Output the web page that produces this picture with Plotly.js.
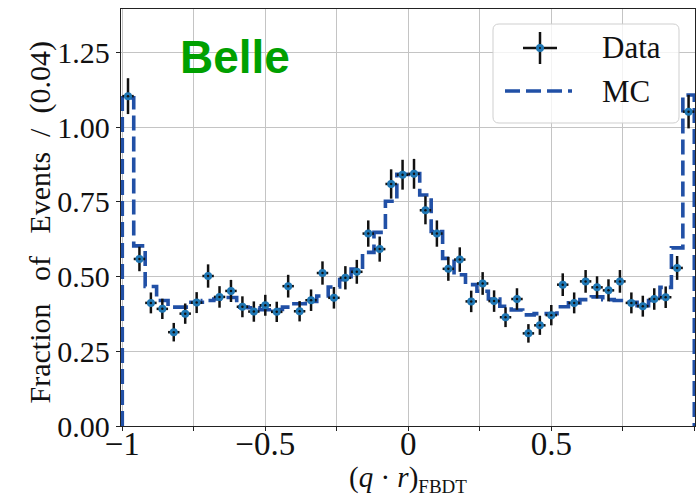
<!DOCTYPE html>
<html><head><meta charset="utf-8">
<script src="https://cdn.plot.ly/plotly-3.0.1.min.js"></script>
<style>html,body{margin:0;padding:0;background:#fff}</style>
</head><body><div id="chart" style="width:696px;height:497px"></div>
<script>
// ---- data ----
const binCenters = [-0.98,-0.94,-0.90,-0.86,-0.82,-0.78,-0.74,-0.70,-0.66,-0.62,
  -0.58,-0.54,-0.50,-0.46,-0.42,-0.38,-0.34,-0.30,-0.26,-0.22,
  -0.18,-0.14,-0.10,-0.06,-0.02,0.02,0.06,0.10,0.14,0.18,
  0.22,0.26,0.30,0.34,0.38,0.42,0.46,0.50,0.54,0.58,
  0.62,0.66,0.70,0.74,0.78,0.82,0.86,0.90,0.94,0.98];
const binHalfWidth = 0.02;
const dataValues = [1.104,0.559,0.412,0.392,0.314,0.376,0.413,0.502,0.432,0.452,
  0.399,0.383,0.404,0.382,0.468,0.384,0.421,0.512,0.429,0.496,
  0.516,0.644,0.592,0.810,0.841,0.844,0.722,0.644,0.526,0.557,
  0.417,0.477,0.418,0.364,0.425,0.310,0.337,0.371,0.473,0.412,
  0.484,0.464,0.454,0.484,0.412,0.401,0.425,0.431,0.529,1.052];
const dataErrors = [0.060,0.041,0.035,0.034,0.031,0.034,0.035,0.039,0.036,0.037,
  0.035,0.034,0.035,0.034,0.038,0.034,0.036,0.039,0.036,0.039,
  0.040,0.044,0.042,0.049,0.050,0.050,0.047,0.044,0.040,0.041,
  0.036,0.038,0.036,0.033,0.036,0.031,0.032,0.034,0.038,0.035,
  0.038,0.037,0.037,0.038,0.035,0.035,0.036,0.036,0.040,0.056];
const mcValues = [1.098,0.603,0.467,0.420,0.398,0.398,0.414,0.420,0.425,0.430,
  0.398,0.396,0.389,0.390,0.398,0.409,0.417,0.435,0.465,0.490,
  0.525,0.581,0.648,0.752,0.842,0.845,0.773,0.651,0.561,0.506,
  0.473,0.451,0.425,0.401,0.388,0.372,0.376,0.376,0.399,0.412,
  0.423,0.432,0.423,0.420,0.414,0.403,0.420,0.464,0.596,1.108];
const yTickVals = [0, 0.25, 0.5, 0.75, 1.0, 1.25];
const yTickText = ['0.00','0.25','0.50','0.75','1.00','1.25'];
const xTickVals = [-1,-0.5,0,0.5,1];
const xTickText = ['\u22121','\u22120.5','0','0.5','1'];

// ---- styles ----
const dataColor = '#1f77b4';
const mcColor = '#2150a6';
const serif = 'Liberation Serif, Times New Roman, serif';
const gridColor = '#c4c4c4';

// step outline for MC histogram
const edges = binCenters.map(c => c - binHalfWidth).concat([binCenters[binCenters.length-1] + binHalfWidth]);
const mcX = [edges[0]].concat(edges.slice(0, mcValues.length), [edges[edges.length-1], edges[edges.length-1]]);
const mcY = [0].concat(mcValues, [mcValues[mcValues.length-1], 0]);

const traces = [
  {x: mcX, y: mcY, type: 'scatter', mode: 'lines', line: {shape: 'hv', color: mcColor, width: 3.6, dash: '15px,6px'}, hoverinfo: 'skip'},
  {x: binCenters, y: dataValues, type: 'scatter', mode: 'markers',
   marker: {color: dataColor, size: 8},
   error_y: {type: 'data', array: dataErrors, color: '#111', thickness: 2.5, width: 0},
   error_x: {type: 'constant', value: binHalfWidth, color: '#111', thickness: 2.5, width: 0}},
  {x: binCenters, y: dataValues, type: 'scatter', mode: 'markers', marker: {color: '#111', size: 2.5}, hoverinfo: 'skip'}
];

// plot-area pixel to paper helpers
const L = 121, R = 695, T = 9, B = 426;
const px = p => (p - L) / (R - L);
const py = p => (B - p) / (B - T);
function roundRect(x0, y0, x1, y1, r) {
  const P = (a, b) => px(a) + ',' + py(b);
  return 'M' + P(x0 + r, y0) + ' L' + P(x1 - r, y0) + ' Q' + P(x1, y0) + ' ' + P(x1, y0 + r) +
    ' L' + P(x1, y1 - r) + ' Q' + P(x1, y1) + ' ' + P(x1 - r, y1) +
    ' L' + P(x0 + r, y1) + ' Q' + P(x0, y1) + ' ' + P(x0, y1 - r) +
    ' L' + P(x0, y0 + r) + ' Q' + P(x0, y0) + ' ' + P(x0 + r, y0) + ' Z';
}

const shapes = [
  {type: 'path', xref: 'paper', yref: 'paper', path: roundRect(493, 24, 679, 123, 6),
   fillcolor: 'rgba(255,255,255,0.8)', line: {color: '#cfcfcf', width: 1}, layer: 'above'},
  {type: 'line', xref: 'paper', yref: 'paper', x0: px(523), x1: px(557), y0: py(48), y1: py(48), line: {color: '#111', width: 2.5}, layer: 'above'},
  {type: 'line', xref: 'paper', yref: 'paper', x0: px(540), x1: px(540), y0: py(32), y1: py(64), line: {color: '#111', width: 2.5}, layer: 'above'},
  {type: 'circle', xref: 'paper', yref: 'paper', x0: px(536), x1: px(544), y0: py(44), y1: py(52), fillcolor: dataColor, line: {width: 0}, layer: 'above'},
  {type: 'circle', xref: 'paper', yref: 'paper', x0: px(539), x1: px(541), y0: py(47), y1: py(49), fillcolor: '#111', line: {width: 0}, layer: 'above'},
  {type: 'line', xref: 'paper', yref: 'paper', x0: px(505), x1: px(572), y0: py(91), y1: py(91), line: {color: mcColor, width: 3.6, dash: '15px,6px'}, layer: 'above'}
];

const annotations = [
  {text: '<b>Belle</b>', xref: 'paper', yref: 'paper', x: px(235), y: py(57), xanchor: 'center', yanchor: 'middle', showarrow: false,
   font: {family: 'Liberation Sans, Arial, sans-serif', size: 46, color: '#00a000'}},
  {text: 'Data', xref: 'paper', yref: 'paper', x: px(600), y: py(48), xanchor: 'left', yanchor: 'middle', showarrow: false,
   font: {family: serif, size: 31, color: '#111'}},
  {text: 'MC', xref: 'paper', yref: 'paper', x: px(600), y: py(91), xanchor: 'left', yanchor: 'middle', showarrow: false,
   font: {family: serif, size: 31, color: '#111'}},
  // axis titles
  {text: '(<i>q</i> \u00b7 <i>r</i>)<sub><span style="font-size:19px">FBDT</span></sub>', xref: 'paper', yref: 'paper',
   x: px(408), y: py(478.5), xanchor: 'center', yanchor: 'middle', showarrow: false,
   font: {family: serif, size: 29, color: '#111'}},
  {text: 'Fraction\u00a0\u00a0 of\u00a0\u00a0 Events\u00a0 /\u00a0 (0.04)', xref: 'paper', yref: 'paper', textangle: -90,
   x: px(40), y: py(222.5), xanchor: 'center', yanchor: 'middle', showarrow: false,
   font: {family: serif, size: 30, color: '#111'}}
];

const layout = {
  width: 696, height: 497,
  margin: {l: L, r: 696 - R, t: T, b: 497 - B, pad: 0},
  paper_bgcolor: '#fff', plot_bgcolor: '#fff',
  showlegend: false,
  font: {family: serif, size: 29, color: '#111'},
  xaxis: {range: [-1.0045, 1.0025], tickmode: 'array', tickvals: xTickVals, ticktext: xTickText,
    showgrid: true, gridcolor: gridColor, gridwidth: 1, zeroline: false,
    showline: true, mirror: true, linecolor: '#222', linewidth: 1.3,
    ticks: 'outside', ticklen: 4, tickcolor: '#222', tickwidth: 1,
    minor: {tick0: 0, dtick: 0.25, ticks: 'outside', ticklen: 4, tickcolor: '#222', showgrid: true, gridcolor: gridColor, gridwidth: 1},
    ticklabelstandoff: -16,
    tickfont: {family: serif, size: 33, color: '#111'}},
  yaxis: {range: [0, 1.3956], tickmode: 'array', tickvals: yTickVals, ticktext: yTickText,
    showgrid: true, gridcolor: gridColor, gridwidth: 1, zeroline: false,
    showline: true, mirror: true, linecolor: '#222', linewidth: 1.3,
    ticks: 'outside', ticklen: 4, tickcolor: '#222', tickwidth: 1,
    tickfont: {family: serif, size: 30, color: '#111'}},
  shapes: shapes,
  annotations: annotations
};

Plotly.newPlot('chart', traces, layout, {displayModeBar: false, staticPlot: true});
</script></body></html>
